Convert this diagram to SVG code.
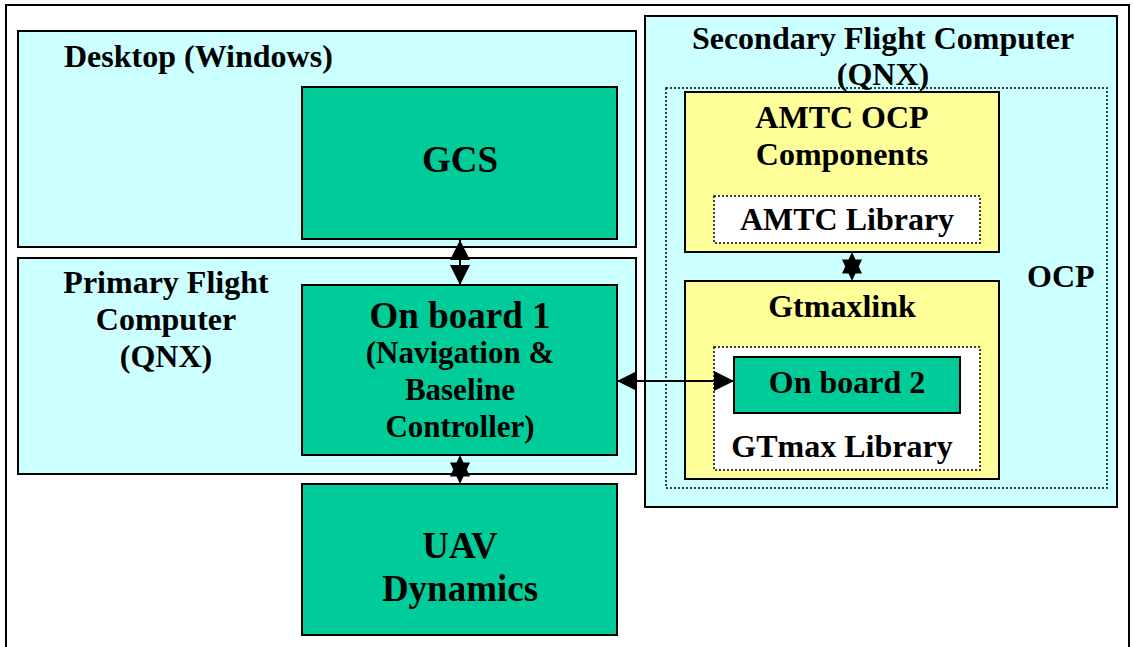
<svg xmlns="http://www.w3.org/2000/svg" width="1133" height="647" viewBox="0 0 1133 647">
  <style>
    .frame { fill: #ffffff; stroke: #000; stroke-width: 2; }
    .host { fill: #CCFFFF; stroke: #000; stroke-width: 2; }
    .proc { fill: #00CC99; stroke: #000; stroke-width: 2; }
    .comp { fill: #FFFF99; stroke: #000; stroke-width: 2; }
    .lib { fill: #ffffff; stroke: #000; stroke-width: 1.5; stroke-dasharray: 2 2; }
    .zone { fill: none; stroke: #000; stroke-width: 1.5; stroke-dasharray: 2 2; }
    text { font-family: "Liberation Serif", "Times New Roman", serif; font-weight: bold; fill: #000; }
    .t32 { font-size: 32px; }
    .t31 { font-size: 31px; }
    .t37 { font-size: 37px; }
    .mid { text-anchor: middle; }
    .link { stroke: #000; stroke-width: 2; fill: none; }
  </style>
  <defs>
    <marker id="head" viewBox="0 0 20 20" refX="20" refY="10" markerWidth="20" markerHeight="20" markerUnits="userSpaceOnUse" orient="auto-start-reverse">
      <path d="M0,0 L20,10 L0,20 Z" fill="#000"/>
    </marker>
    <!-- six-pointed junction mark: two overlapping solid triangles -->
    <g id="star" fill="#000">
      <path d="M0,-14.5 L10,7 L-10,7 Z"/>
      <path d="M0,14.5 L-10,-7 L10,-7 Z"/>
    </g>
  </defs>

  <!-- outer frame -->
  <rect class="frame" x="6" y="5" width="1123" height="660"/>

  <g id="desktop">
    <rect class="host" x="18" y="31" width="618" height="216"/>
    <text class="t32" x="64" y="67">Desktop (Windows)</text>
  </g>

  <g id="gcs">
    <rect class="proc" x="302" y="87" width="315" height="152"/>
    <text class="t37 mid" x="460" y="172">GCS</text>
  </g>

  <g id="primary">
    <rect class="host" x="18" y="258" width="618" height="216"/>
    <text class="t32 mid" x="166" y="293">Primary Flight</text>
    <text class="t32 mid" x="166" y="330">Computer</text>
    <text class="t32 mid" x="166" y="367">(QNX)</text>
  </g>

  <g id="onboard1">
    <rect class="proc" x="302" y="285" width="315" height="170"/>
    <text class="t37 mid" x="460" y="328">On board 1</text>
    <text class="t31 mid" x="460" y="363">(Navigation &amp;</text>
    <text class="t31 mid" x="460" y="400">Baseline</text>
    <text class="t31 mid" x="460" y="437">Controller)</text>
  </g>

  <g id="uav">
    <rect class="proc" x="302" y="484" width="315" height="151"/>
    <text class="t37 mid" x="460" y="558">UAV</text>
    <text class="t37 mid" x="460" y="601">Dynamics</text>
  </g>

  <g id="secondary">
    <rect class="host" x="645" y="16" width="472" height="491"/>
    <text class="t32 mid" x="883" y="49">Secondary Flight Computer</text>
    <text class="t32 mid" x="883" y="85">(QNX)</text>
  </g>

  <g id="ocp">
    <rect class="zone" x="666" y="88" width="441" height="400"/>
    <text class="t32" x="1027" y="287">OCP</text>
  </g>

  <g id="amtc-ocp">
    <rect class="comp" x="685" y="92" width="314" height="160"/>
    <text class="t32 mid" x="842" y="128">AMTC OCP</text>
    <text class="t32 mid" x="842" y="165">Components</text>
  </g>

  <g id="amtc-library">
    <rect class="lib" x="714" y="196" width="266" height="47"/>
    <text class="t32 mid" x="847" y="230">AMTC Library</text>
  </g>

  <g id="gtmaxlink">
    <rect class="comp" x="685" y="281" width="314" height="198"/>
    <text class="t32 mid" x="842" y="317">Gtmaxlink</text>
  </g>

  <g id="gtmax-library">
    <rect class="lib" x="714" y="347" width="266" height="123"/>
    <text class="t32 mid" x="842" y="457">GTmax Library</text>
  </g>

  <g id="onboard2">
    <rect class="proc" x="734" y="357" width="226" height="56"/>
    <text class="t32 mid" x="847" y="393">On board 2</text>
  </g>

  <g id="connectors">
    <line class="link" x1="460" y1="240" x2="460" y2="285" marker-start="url(#head)" marker-end="url(#head)"/>
    <line class="link" x1="617" y1="381" x2="734" y2="381" marker-start="url(#head)" marker-end="url(#head)"/>
    <use href="#star" x="460" y="469.5"/>
    <use href="#star" x="852" y="266.5"/>
  </g>
</svg>
